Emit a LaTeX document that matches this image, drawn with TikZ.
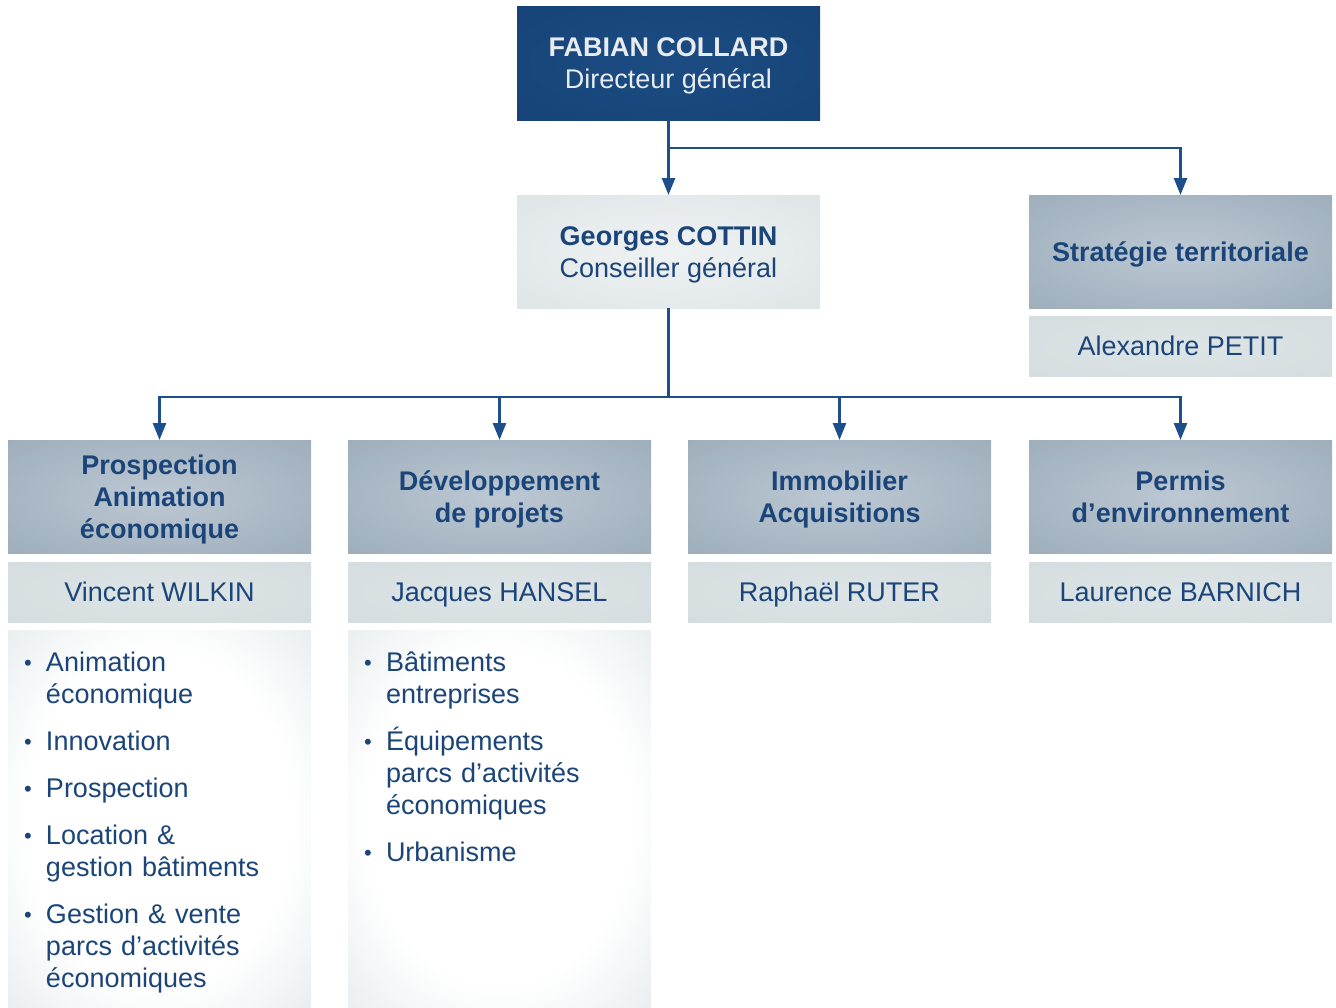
\documentclass[tikz,border=0pt]{standalone}
\usepackage{fontspec}
\setmainfont{Liberation Sans}
\usetikzlibrary{arrows.meta}
\definecolor{txt}{HTML}{1B4579}
\definecolor{ln}{HTML}{1F4E8C}
\definecolor{toptxt}{HTML}{E8ECF0}
\definecolor{topin}{HTML}{1C4C82}
\definecolor{topmid}{HTML}{134074}
\definecolor{topout}{HTML}{0F3C6F}
\definecolor{hdrin}{HTML}{BCC8D4}
\definecolor{hdrmid}{HTML}{91A3B0}
\definecolor{hdrout}{HTML}{7A8F9C}
\definecolor{namein}{HTML}{DDE4E6}
\definecolor{namemid}{HTML}{D1DADD}
\definecolor{nameout}{HTML}{CAD4D8}
\definecolor{gcin}{HTML}{EFF2F3}
\definecolor{gcmid}{HTML}{D8E0E2}
\definecolor{gcout}{HTML}{D0D8DB}
\definecolor{lstin}{HTML}{FFFFFF}
\definecolor{lstmid}{HTML}{D3DCDF}
\definecolor{lstout}{HTML}{CBD5D8}
\pgfdeclareradialshading{topsh}{\pgfpoint{0bp}{0bp}}{color(0bp)=(topin); color(50bp)=(topmid); color(71bp)=(topout)}
\pgfdeclareradialshading{hdrsh}{\pgfpoint{0bp}{0bp}}{color(0bp)=(hdrin); color(50bp)=(hdrmid); color(71bp)=(hdrout)}
\pgfdeclareradialshading{namesh}{\pgfpoint{0bp}{0bp}}{color(0bp)=(namein); color(50bp)=(namemid); color(71bp)=(nameout)}
\pgfdeclareradialshading{gcsh}{\pgfpoint{0bp}{0bp}}{color(0bp)=(gcin); color(50bp)=(gcmid); color(71bp)=(gcout)}
\pgfdeclareradialshading{lstsh}{\pgfpoint{0bp}{0bp}}{color(0bp)=(lstin); color(22bp)=(lstin); color(50bp)=(lstmid); color(71bp)=(lstout)}
\newcommand{\st}{\vrule width 0pt height 25.65pt depth 6.35pt}
\tikzset{
  box/.style={rectangle, inner sep=0pt, outer sep=0pt, minimum width=303pt, anchor=north west, align=center, text=txt, font=\fontsize{27}{32}\selectfont},
  topbox/.style={box, minimum height=114pt, shading=topsh, text=toptxt},
  hdrbox/.style={box, minimum height=113pt, shading=hdrsh, font=\fontsize{27}{32}\selectfont\bfseries},
  gcbox/.style={box, minimum height=113pt, shading=gcsh},
  namebox/.style={box, minimum height=60pt, shading=namesh},
  lstbox/.style={box, minimum height=377pt, shading=lstsh},
  lsttext/.style={inner sep=0pt, outer sep=0pt, anchor=north west, text width=280pt, align=left, text=txt, font=\fontsize{27}{32}\selectfont},
  conn/.style={draw=ln, line width=2.6pt},
  arr/.style={conn, -{Triangle[width=13pt,length=17pt]}}
}
\newcommand{\bl}{\makebox[24pt][l]{\hspace{2pt}\raisebox{1pt}{\fontsize{22}{22}\selectfont\textbullet}}}
\newcommand{\ind}{\hspace*{24pt}}
\begin{document}
\begin{tikzpicture}[x=1pt,y=-1pt]
\useasboundingbox (0,0) rectangle (1336,1007);
% top
\node[topbox] (top) at (517,6) {\st\textbf{FABIAN COLLARD}\\Directeur général\st};
\node[gcbox] (gc) at (517,195) {\st\textbf{Georges COTTIN}\\Conseiller général\st};
\node[hdrbox] (strat) at (1029,195) {\st Stratégie territoriale\st};
\node[namebox] (petit) at (1029,316) {\st Alexandre PETIT\st};
% headers
\node[hdrbox] (h1) at (8,440) {\st Prospection\\Animation\\économique\st};
\node[hdrbox] (h2) at (348,440) {\st Développement\\de projets\st};
\node[hdrbox] (h3) at (688,440) {\st Immobilier\\Acquisitions\st};
\node[hdrbox] (h4) at (1029,440) {\st Permis\\d’environnement\st};
% names
\node[namebox] (n1) at (8,562) {\st Vincent WILKIN\st};
\node[namebox] (n2) at (348,562) {\st Jacques HANSEL\st};
\node[namebox] (n3) at (688,562) {\st Raphaël RUTER\st};
\node[namebox] (n4) at (1029,562) {\st Laurence BARNICH\st};
% lists
\node[lstbox] (l1) at (8,630) {};
\node[lstbox] (l2) at (348,630) {};
\node[lsttext] (t1) at (22,652) {\bl Animation\\\ind économique\\[15pt]\bl Innovation\\[15pt]\bl Prospection\\[15pt]\bl Location \&\\\ind gestion bâtiments\\[15pt]\bl Gestion \& vente\\\ind parcs d’activités\\\ind économiques};
\node[lsttext] (t2) at (362,652) {\bl Bâtiments\\\ind entreprises\\[15pt]\bl Équipements\\\ind parcs d’activités\\\ind économiques\\[15pt]\bl Urbanisme};
% connectors
\coordinate (b1) at (668.5,148);
\coordinate (b2) at (668.5,397);
\draw[arr] (top.south) -- (gc.north);
\draw[arr] (b1) -| (strat.north);
\draw[conn] (gc.south) -- (b2);
\draw[arr] (b2) -| (h1.north);
\draw[arr] (b2) -| (h2.north);
\draw[arr] (b2) -| (h3.north);
\draw[arr] (b2) -| (h4.north);
\end{tikzpicture}
\end{document}
